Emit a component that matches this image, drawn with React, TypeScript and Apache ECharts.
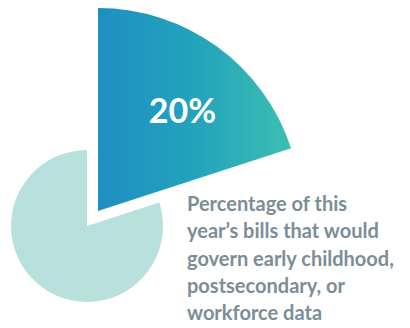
import React, { useEffect, useRef } from "react";
import * as echarts from "echarts";

const categories = ["Early childhood, postsecondary or workforce data", "Other bills"];
const values = [20, 80];
const caption = "Percentage of this\nyear\u2019s bills that would\ngovern early childhood,\npostsecondary, or\nworkforce data";

export default function App() {
  const ref = useRef<HTMLDivElement>(null);
  useEffect(() => {
    const chart = echarts.init(ref.current!, null, { renderer: "svg" });
    const transparent = { color: "rgba(0,0,0,0)" };
    chart.setOption({
      animation: false,
      series: [
        {
          type: "pie",
          center: [87, 226],
          radius: 76,
          startAngle: 90,
          clockwise: true,
          silent: true,
          label: { show: false },
          labelLine: { show: false },
          data: [
            { name: categories[0], value: values[0], itemStyle: transparent },
            { name: categories[1], value: values[1], itemStyle: { color: "#b8e0dd" } },
          ],
        },
        {
          type: "pie",
          center: [98, 211],
          radius: 203,
          startAngle: 90,
          clockwise: true,
          silent: true,
          labelLine: { show: false },
          data: [
            {
              name: categories[0],
              value: values[0],
              itemStyle: {
                color: new echarts.graphic.LinearGradient(0, 0, 1, 0, [
                  { offset: 0, color: "#1f8ec3" },
                  { offset: 0.5, color: "#22a3bc" },
                  { offset: 1, color: "#3dbeb2" },
                ]),
              },
              label: {
                show: true,
                position: "inside",
                formatter: (p: any) => p.value + "%",
                color: "#ffffff",
                fontFamily: "Lato",
                fontWeight: "bold",
                fontSize: 34,
                offset: [23, -17],
              },
            },
            { name: categories[1], value: values[1], itemStyle: transparent, label: { show: false } },
          ],
        },
      ],
      graphic: [
        {
          type: "text",
          left: 187,
          top: 189,
          style: {
            text: caption,
            fill: "#7b8d97",
            font: "bold 20px Lato",
            lineHeight: 27.4,
          },
        },
      ],
    });
    return () => chart.dispose();
  }, []);
  return (
    <div
      ref={ref}
      style={{ position: "fixed", left: 0, top: 0, width: 410, height: 328, background: "#ffffff" }}
    />
  );
}
